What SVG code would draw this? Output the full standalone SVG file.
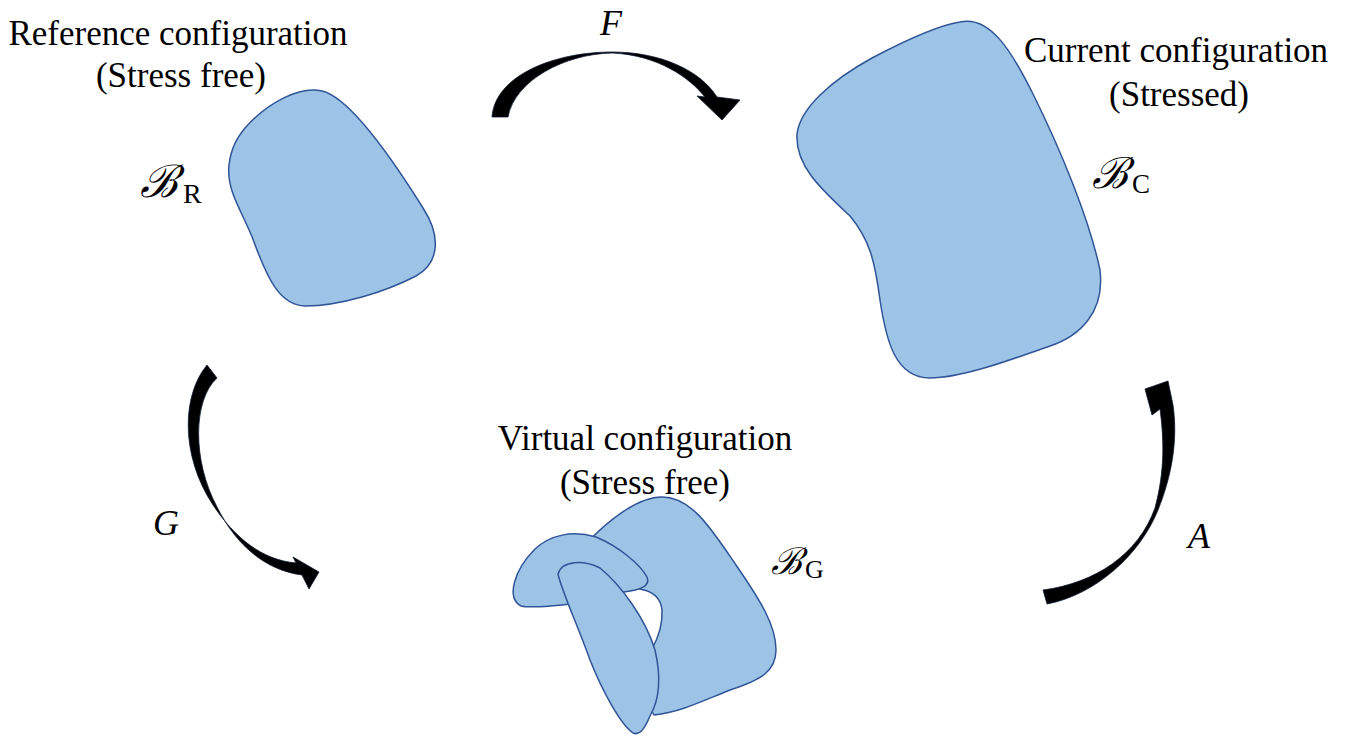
<svg xmlns="http://www.w3.org/2000/svg" width="1353" height="740" viewBox="0 0 1353 740">
<style>
.body{fill:#9DC3E6;stroke:#2F5597;stroke-width:1.5;stroke-linejoin:round}
.hole{fill:#ffffff;stroke:#2F5597;stroke-width:1.5}
.lbl{font-family:"Liberation Serif","Times New Roman",serif;font-size:35px;fill:#000;text-anchor:middle}
.var{font-family:"Liberation Serif","Times New Roman",serif;font-style:italic;font-size:36px;fill:#000;text-anchor:middle}
.scr{font-family:"DejaVu Serif",serif;font-style:italic;fill:#000}
.sub{font-family:"Liberation Serif",serif;fill:#000;font-style:normal}
.arr{fill:#000;stroke:#0d1a33;stroke-width:0.8;stroke-linejoin:round}
</style>
<rect width="1353" height="740" fill="#ffffff"/>

<g id="reference">
<path class="body" d="M 245,128 C 268,102 300,86 322,91 C 352,98 398,168 423,208 C 440,234 441,262 416,276 C 385,292 340,306 305,306 C 280,305 268,280 254,242 C 244,214 226,192 229,165 C 231,148 237,138 245,128 Z"/>
<text class="lbl" x="178" y="45">Reference configuration</text>
<text class="lbl" x="181" y="87">(Stress free)</text>
<text class="scr" x="140" y="197" font-size="45">ℬ<tspan class="sub" font-size="28" dx="5" dy="6">R</tspan></text>
</g>

<g id="current">
<path class="body" d="M 960,22 C 990,15 1012,52 1032,92 C 1062,152 1090,222 1100,270 C 1105,312 1080,336 1050,346 C 1010,360 962,378 930,378 C 895,378 886,340 880,300 C 875,262 870,240 850,216 C 822,190 795,166 797,134 C 800,108 832,80 872,58 C 910,38 940,25 960,22 Z"/>
<text class="lbl" x="1176" y="62">Current configuration</text>
<text class="lbl" x="1179" y="106">(Stressed)</text>
<text class="scr" x="1092" y="188" font-size="43">ℬ<tspan class="sub" font-size="27" dx="4" dy="5">C</tspan></text>
</g>

<g id="virtual">
<path class="body" d="M 585,545 C 608,520 638,497 662,497 C 692,497 712,530 736,565 C 760,600 776,625 776,650 C 776,672 760,680 730,690 C 700,702 680,712 654,715 L 640,690 L 600,570 Z"/>
<path class="hole" d="M 612,592 C 638,584 660,590 662,610 C 663,626 658,638 652,649 L 615,600 Z"/>
<path class="body" d="M 521,606 C 506,598 514,570 535,549 C 550,535 572,530 596,537 C 618,546 640,564 647,577 C 651,586 640,590 624,592 C 600,596 588,602 562,605 C 542,607 530,608 521,606 Z"/>
<path class="body" d="M 558,574 C 562,560 584,560 600,568 C 622,586 646,620 655,650 C 662,680 658,702 650,716 C 645,728 640,736 633,733 C 620,724 602,690 590,660 C 578,626 562,592 558,574 Z"/>
<text class="lbl" x="645" y="450">Virtual configuration</text>
<text class="lbl" x="645" y="494">(Stress free)</text>
<text class="scr" x="771" y="574" font-size="37">ℬ<tspan class="sub" font-size="26" dx="3" dy="4">G</tspan></text>
</g>

<g id="connectors">
<path class="arr" d="M 492,117 C 495,75 555,52 612,52 C 660,52 700,70 717,97 L 740,100 L 722,120 L 697,96 L 705,97 C 690,78 658,55 612,53 C 565,54 515,80 508,117 Z"/>
<text class="var" x="611" y="35">F</text>
<path class="arr" d="M 207,365 C 182,395 180,455 213,505 C 235,538 262,560 296,563 L 293,557 L 319,572 L 309,589 L 302,575 C 265,570 236,545 217,507 C 192,460 193,400 217,378 Z"/>
<text class="var" x="166" y="535">G</text>
<path class="arr" d="M 1047,604 C 1095,595 1140,555 1158,510 C 1172,475 1178,440 1173,405 L 1168,381 L 1145,389 L 1152,415 L 1160,409 C 1164,440 1165,470 1155,508 C 1138,555 1095,583 1043,590 Z"/>
<text class="var" x="1199" y="548">A</text>
</g>
</svg>
